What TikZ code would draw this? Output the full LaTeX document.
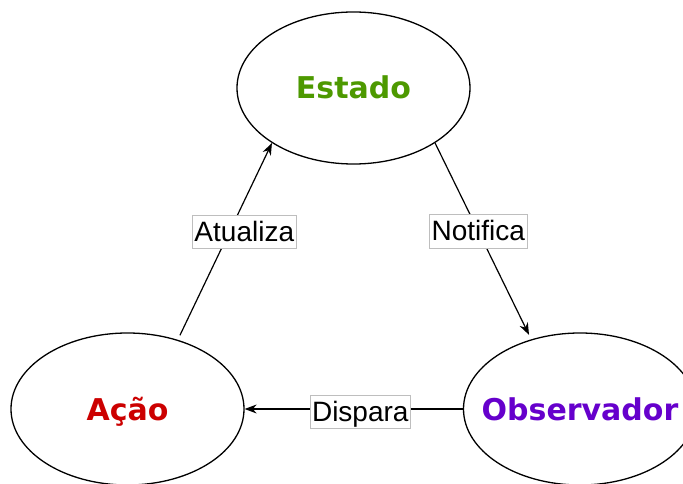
\documentclass[tikz,border=0pt]{standalone}
\usepackage{fontspec}
\setmainfont{Liberation Sans}
\newfontfamily\dvs{DejaVu Sans}
\usetikzlibrary{shapes.geometric,arrows.meta}
\definecolor{estadogreen}{RGB}{77,153,0}
\definecolor{acaored}{RGB}{204,0,0}
\definecolor{obspurple}{RGB}{102,0,204}
\definecolor{lblgray}{RGB}{190,190,190}
\begin{document}
\begin{tikzpicture}[x=1pt,y=-1pt,
  state/.style={ellipse,draw,line width=1.3pt,minimum width=233pt,minimum height=152pt,
    inner sep=0pt,text height=22pt,text depth=0pt,font=\dvs\bfseries\fontsize{30}{36}\selectfont},
  conn/.style={line width=1.2pt,-{Stealth[length=12pt,width=9pt]}},
  lbl/.style={fill=white,draw=lblgray,line width=0.8pt,inner xsep=2pt,inner ysep=1.8pt,
    text height=24pt,text depth=5.5pt,font=\fontsize{28}{32}\selectfont}]
\useasboundingbox (0,0) rectangle (683,484);
\clip (0,0) rectangle (683,484);
\fill[white] (0,0) rectangle (683,484);
\node[state,text=estadogreen] (estado) at (353.5,88) {\makebox[0pt]{Estado}};
\node[state,text=acaored] (acao) at (127.5,409) {\makebox[0pt]{Ação}};
\node[state,text=obspurple] (obs) at (580,409) {\makebox[0pt]{Observador}};
\draw[conn,shorten <=5pt] (acao.54.6) -- node[lbl,pos=0.547,xshift=15pt] {Atualiza} (estado.214.1);
\draw[conn,shorten >=5pt] (estado.326.1) -- node[lbl,pos=0.45] {Notifica} (obs.125.1);
\draw[conn] (obs.west) -- node[lbl,pos=0.47,yshift=-3pt] {Dispara} (acao.east);
\end{tikzpicture}
\end{document}
